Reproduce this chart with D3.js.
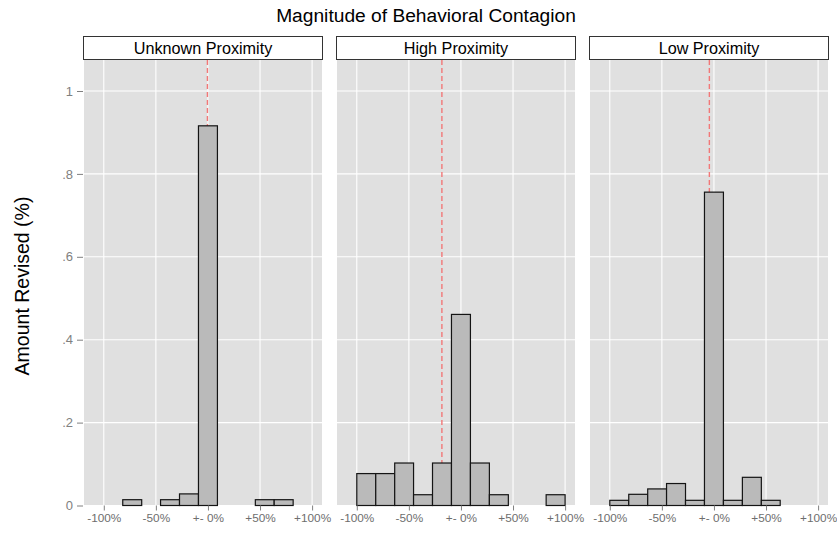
<!DOCTYPE html>
<html>
<head>
<meta charset="utf-8">
<script src="https://cdn.jsdelivr.net/npm/d3@7"></script>
<style>
  html, body { margin: 0; padding: 0; background: #ffffff; }
  svg { display: block; font-family: "Liberation Sans", Arial, Helvetica, sans-serif; }
</style>
</head>
<body>
<svg id="chart" width="837" height="537"></svg>
<script>
// Facets
const panelNames = ["Unknown Proximity", "High Proximity", "Low Proximity"];

// Histogram bins (percent change), 11 bins spanning -100% .. +100%
const binStart = [-100, -81.8, -63.6, -45.5, -27.3, -9.1, 9.1, 27.3, 45.5, 63.6, 81.8];
const binEnd   = [-81.8, -63.6, -45.5, -27.3, -9.1, 9.1, 27.3, 45.5, 63.6, 81.8, 100];

// Share of revisions falling in each bin, per facet
const unknownShare = [0, 0.014, 0, 0.014, 0.028, 0.916, 0, 0, 0.014, 0.014, 0];
const highShare    = [0.077, 0.077, 0.1025, 0.026, 0.1025, 0.461, 0.1025, 0.026, 0, 0, 0.026];
const lowShare     = [0.0125, 0.027, 0.040, 0.053, 0.0125, 0.756, 0.0125, 0.068, 0.0125, 0, 0];

// Mean revision per facet (dashed reference line)
const meanRevision = [-0.5, -18.3, -4.4];

// Axis ticks
const xTickValues = [-100, -50, 0, 50, 100];
const xTickLabels = ["-100%", "-50%", "+- 0%", "+50%", "+100%"];
const yTickValues = [0, 0.2, 0.4, 0.6, 0.8, 1];
const yTickLabels = ["0", ".2", ".4", ".6", ".8", "1"];

const shares = [unknownShare, highShare, lowShare];

const svg = d3.select("#chart");

const panelLeft = 84, panelWidth = 238, panelPitch = 253;
const panelTop = 60, panelBottom = 505.5;
const stripTop = 36.5, stripBottom = 59.5;

const x = d3.scaleLinear().domain([-119, 109.5]).range([0, panelWidth]);
const y = d3.scaleLinear().domain([0, 1.0748]).range([panelBottom, panelTop]);

const grey = "#e0e0e0";
const axisGrey = "#808080";

// Title
svg.append("text")
  .attr("x", 426).attr("y", 22)
  .attr("text-anchor", "middle")
  .attr("font-size", 19.2)
  .attr("fill", "#000")
  .text("Magnitude of Behavioral Contagion");

// Y axis title
svg.append("text")
  .attr("transform", "translate(28.5,286) rotate(-90)")
  .attr("text-anchor", "middle")
  .attr("font-size", 19.5)
  .attr("fill", "#000")
  .text("Amount Revised (%)");

// Y axis (left of first panel)
const yAxis = d3.axisLeft(y)
  .tickValues(yTickValues)
  .tickFormat((d, i) => yTickLabels[i])
  .tickSize(6)
  .tickPadding(4);

const yg = svg.append("g")
  .attr("transform", `translate(${panelLeft - 1},0)`)
  .call(yAxis);
yg.select(".domain").remove();
yg.selectAll(".tick line").attr("stroke", axisGrey);
yg.selectAll(".tick text").attr("fill", axisGrey).attr("font-size", 13)
  .attr("font-family", "Liberation Sans, Arial, sans-serif");

panelNames.forEach((name, p) => {
  const left = panelLeft + p * panelPitch;
  const g = svg.append("g").attr("transform", `translate(${left},0)`);

  // Strip
  g.append("rect")
    .attr("x", -0.5).attr("y", stripTop)
    .attr("width", panelWidth + 1).attr("height", stripBottom - stripTop)
    .attr("fill", "#fff").attr("stroke", "#333").attr("stroke-width", 1);
  g.append("text")
    .attr("x", panelWidth / 2).attr("y", (stripTop + stripBottom) / 2 + 5.6)
    .attr("text-anchor", "middle")
    .attr("font-size", 16.2)
    .attr("fill", "#000")
    .text(name);

  // Panel background
  g.append("rect")
    .attr("x", 0).attr("y", panelTop)
    .attr("width", panelWidth).attr("height", panelBottom - panelTop)
    .attr("fill", grey);

  // Grid
  g.selectAll("line.hgrid").data(yTickValues).enter().append("line")
    .attr("x1", 0).attr("x2", panelWidth)
    .attr("y1", d => y(d)).attr("y2", d => y(d))
    .attr("stroke", "#fff").attr("stroke-width", 1.1);
  g.selectAll("line.vgrid").data(xTickValues).enter().append("line")
    .attr("x1", d => x(d)).attr("x2", d => x(d))
    .attr("y1", panelTop).attr("y2", panelBottom)
    .attr("stroke", "#fff").attr("stroke-width", 1.1);

  // Mean line (under the bars)
  g.append("line")
    .attr("x1", x(meanRevision[p])).attr("x2", x(meanRevision[p]))
    .attr("y1", panelTop).attr("y2", panelBottom)
    .attr("stroke", "#f27878").attr("stroke-width", 1.4)
    .attr("stroke-dasharray", "5,3");

  // Bars
  const bins = binStart.map((s, i) => ({ s, e: binEnd[i], v: shares[p][i] }))
    .filter(d => d.v > 0);
  g.selectAll("rect.bar").data(bins).enter().append("rect")
    .attr("x", d => x(d.s))
    .attr("width", d => x(d.e) - x(d.s))
    .attr("y", d => y(d.v))
    .attr("height", d => y(0) - y(d.v))
    .attr("fill", "#bababa")
    .attr("stroke", "#141414").attr("stroke-width", 1.2);

  // X axis
  const xAxis = d3.axisBottom(x)
    .tickValues(xTickValues)
    .tickFormat((d, i) => xTickLabels[i])
    .tickSize(5)
    .tickPadding(3);
  const xg = g.append("g")
    .attr("transform", `translate(0,${panelBottom})`)
    .call(xAxis);
  xg.select(".domain").remove();
  xg.selectAll(".tick line").attr("stroke", axisGrey);
  xg.selectAll(".tick text").attr("fill", "#6e6e6e").attr("font-size", 11.8)
    .attr("font-family", "Liberation Sans, Arial, sans-serif");
});
</script>
</body>
</html>
